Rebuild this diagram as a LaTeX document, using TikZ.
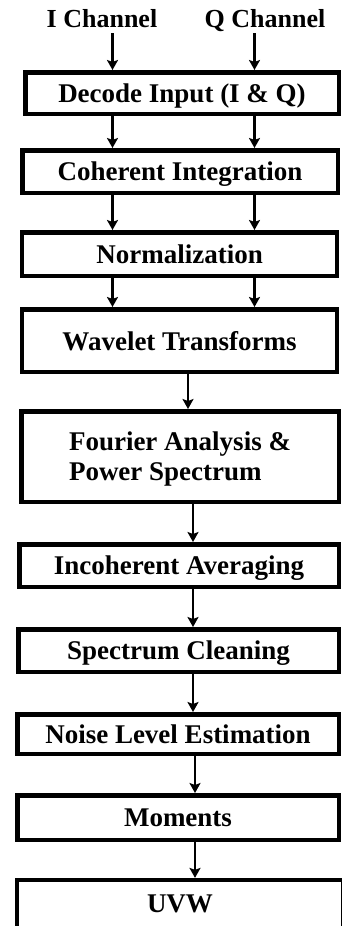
\documentclass[tikz,border=0pt]{standalone}
\usepackage{fontspec}
\setmainfont{Liberation Serif}
\usetikzlibrary{positioning}
\usetikzlibrary{arrows.meta}

\begin{document}
\begin{tikzpicture}[x=1pt,y=-1pt,
  blk/.style={draw,line width=4.5pt,inner sep=0pt,text depth=0pt,font=\bfseries\fontsize{27}{30}\selectfont},
  lbl/.style={inner sep=6pt,text depth=0pt,font=\bfseries\fontsize{26}{30}\selectfont},
  arr/.style={line width=2.5pt,-{Stealth[length=10pt,width=11pt,inset=2pt]}}]
\useasboundingbox (0,0) rectangle (341,926);
% columns of the arrows
\coordinate (colI) at (112.5,0);
\coordinate (colQ) at (254.5,0);
\coordinate (colA) at (188,0);
\coordinate (colB) at (193,0);
\coordinate (colC) at (195,0);

\node[lbl,name=ich] at (102,18) {I Channel};
\node[lbl,name=qch] at (265,18) {Q Channel};

\node[blk,minimum width=313.5,minimum height=41.5,name=dec] at (182,93) {Decode Input (I \& Q)};
\node[blk,minimum width=315.5,minimum height=42.5,name=coh] at (180,171.5) {Coherent Integration};
\node[blk,minimum width=315,minimum height=43.5,name=nor] at (179.6,254) {Normalization};
\node[blk,minimum width=315,minimum height=62.5,name=wav] at (179.6,340.5) {Wavelet Transforms};
\node[blk,minimum width=317.5,minimum height=90.5,align=left,name=fou] at (180,456.5) {Fourier Analysis \&\\Power Spectrum};
\node[blk,minimum width=319.5,minimum height=42.5,name=inc] at (179,565.5) {Incoherent Averaging};
\node[blk,minimum width=320.5,minimum height=42.5,name=spc] at (178.5,650.5) {Spectrum Cleaning};
\node[blk,minimum width=321.5,minimum height=39.5,name=noi] at (178,734) {Noise Level Estimation};
\node[blk,minimum width=321.5,minimum height=44.5,name=mom] at (178,817.5) {Moments};
\node[blk,minimum width=325.75,minimum height=47.75,name=uvw] at (180,904) {UVW};

\draw[arr] (ich.south -| colI) -- (dec.north -| colI);
\draw[arr] (qch.south -| colQ) -- (dec.north -| colQ);
\draw[arr] (dec.south -| colI) -- (coh.north -| colI);
\draw[arr] (dec.south -| colQ) -- (coh.north -| colQ);
\draw[arr] (coh.south -| colI) -- (nor.north -| colI);
\draw[arr] (coh.south -| colQ) -- (nor.north -| colQ);
\draw[arr] (nor.south -| colI) -- (wav.north -| colI);
\draw[arr] (nor.south -| colQ) -- (wav.north -| colQ);

\draw[arr] (wav.south -| colA) -- (fou.north -| colA);
\draw[arr] (fou.south -| colB) -- (inc.north -| colB);
\draw[arr] (inc.south -| colB) -- (spc.north -| colB);
\draw[arr] (spc.south -| colB) -- (noi.north -| colB);
\draw[arr] (noi.south -| colC) -- (mom.north -| colC);
\draw[arr] (mom.south -| colC) -- (uvw.north -| colC);
\end{tikzpicture}
\end{document}
